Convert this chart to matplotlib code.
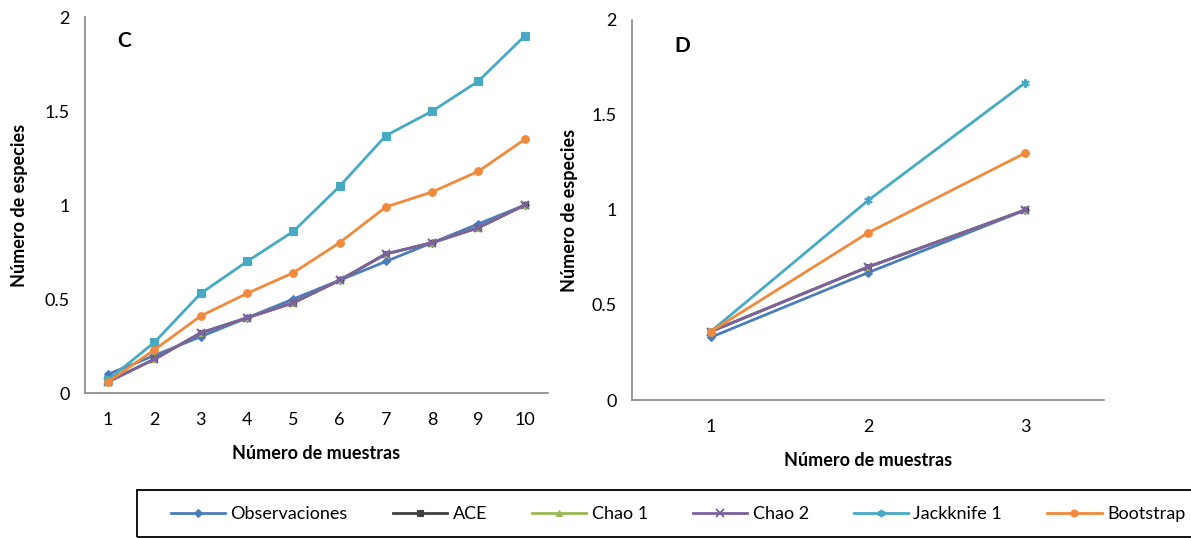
import matplotlib

matplotlib.use("Agg")
import matplotlib.pyplot as plt
from matplotlib.lines import Line2D
from matplotlib.patches import Rectangle

plt.rcParams["font.family"] = ["Lato", "DejaVu Sans"]

# panel C: 10 samples
muestras_c = [1, 2, 3, 4, 5, 6, 7, 8, 9, 10]
obs_c = [0.10, 0.20, 0.30, 0.40, 0.50, 0.60, 0.70, 0.80, 0.90, 1.00]
ace_c = [0.06, 0.18, 0.32, 0.40, 0.48, 0.60, 0.74, 0.80, 0.88, 1.00]
chao1_c = [0.06, 0.18, 0.32, 0.40, 0.48, 0.60, 0.74, 0.80, 0.88, 1.00]
chao2_c = [0.06, 0.18, 0.32, 0.40, 0.48, 0.60, 0.74, 0.80, 0.88, 1.00]
jack_c = [0.07, 0.27, 0.53, 0.70, 0.86, 1.10, 1.37, 1.50, 1.66, 1.90]
boot_c = [0.06, 0.23, 0.41, 0.53, 0.64, 0.80, 0.99, 1.07, 1.18, 1.35]

# panel D: 3 samples
muestras_d = [1, 2, 3]
obs_d = [0.33, 0.67, 1.00]
ace_d = [0.36, 0.70, 1.00]
chao1_d = [0.36, 0.70, 1.00]
chao2_d = [0.36, 0.70, 1.00]
jack_d = [0.36, 1.05, 1.67]
boot_d = [0.36, 0.88, 1.30]

names = ["Observaciones", "ACE", "Chao 1", "Chao 2", "Jackknife 1", "Bootstrap"]
colors = ["#4a7ebb", "#404040", "#98b954", "#7d60a0", "#46aac5", "#f08a3c"]
star = (6, 2, 0)
markers_c = ["D", "s", "^", "x", "s", "o"]
markers_d = ["D", "s", "^", "x", star, "o"]
sizes = [4, 5, 5, 6, 6, 5.5]

AXIS_GREY = "#868686"
FS = 13


def style_axes(ax, xticks, xlim, xlabel_pad, ylabel_pad):
    ax.set_xlim(*xlim)
    ax.set_ylim(0, 2)
    ax.set_xticks(xticks)
    ax.set_yticks([0, 0.5, 1, 1.5, 2])
    ax.set_yticklabels(["0", "0.5", "1", "1.5", "2"])
    for side in ("top", "right"):
        ax.spines[side].set_visible(False)
    for side in ("left", "bottom"):
        ax.spines[side].set_color(AXIS_GREY)
        ax.spines[side].set_linewidth(1.2)
    ax.tick_params(length=0, labelsize=FS)
    ax.tick_params(axis="x", pad=14)
    ax.tick_params(axis="y", pad=11)
    ax.set_xlabel("Número de muestras", fontsize=FS, fontweight="bold", labelpad=xlabel_pad)
    ax.set_ylabel("Número de especies", fontsize=FS, fontweight="bold", labelpad=ylabel_pad)


def draw(ax, x, series, markers):
    for ys, name, col, mk, ms in zip(series, names, colors, markers, sizes):
        ax.plot(x, ys, color=col, marker=mk, markersize=ms, linewidth=2,
                markeredgewidth=1.5 if mk in ("x", star) else 0.8,
                markeredgecolor=col, label=name)


fig = plt.figure(figsize=(11.91, 5.38), dpi=100)

ax_c = fig.add_axes([0.0714, 0.2695, 0.3886, 0.6985])
draw(ax_c, muestras_c, [obs_c, ace_c, chao1_c, chao2_c, jack_c, boot_c], markers_c)
style_axes(ax_c, muestras_c, (0.5, 10.5), 12, 12)
ax_c.text(0.07, 0.92, "C", transform=ax_c.transAxes, fontsize=15, fontweight="bold")

ax_d = fig.add_axes([0.5307, 0.2565, 0.3963, 0.7065])
draw(ax_d, muestras_d, [obs_d, ace_d, chao1_d, chao2_d, jack_d, boot_d], markers_d)
style_axes(ax_d, muestras_d, (0.5, 3.5), 12, 10)
ax_d.text(0.09, 0.915, "D", transform=ax_d.transAxes, fontsize=15, fontweight="bold")

# legend strip along the bottom, its frame running off the right edge
fig.patches.append(Rectangle((137 / 1191, 1 / 538), 1.0, 47 / 538,
                             transform=fig.transFigure, fill=False,
                             edgecolor="black", linewidth=1.3))
handles = [
    Line2D([], [], color=c, marker=m, markersize=s * 0.9, linewidth=2,
           markeredgewidth=1.3 if m in ("x", star) else 0.8, markeredgecolor=c)
    for c, m, s in zip(colors, markers_d, sizes)
]
fig.legend(handles, names, loc="center left", ncol=6,
           bbox_to_anchor=(171 / 1191, 24 / 538), fontsize=FS, frameon=False,
           handlelength=3.0, handletextpad=0.3, columnspacing=2.5,
           borderaxespad=0, borderpad=0)

fig.savefig("out.png", dpi=100)
